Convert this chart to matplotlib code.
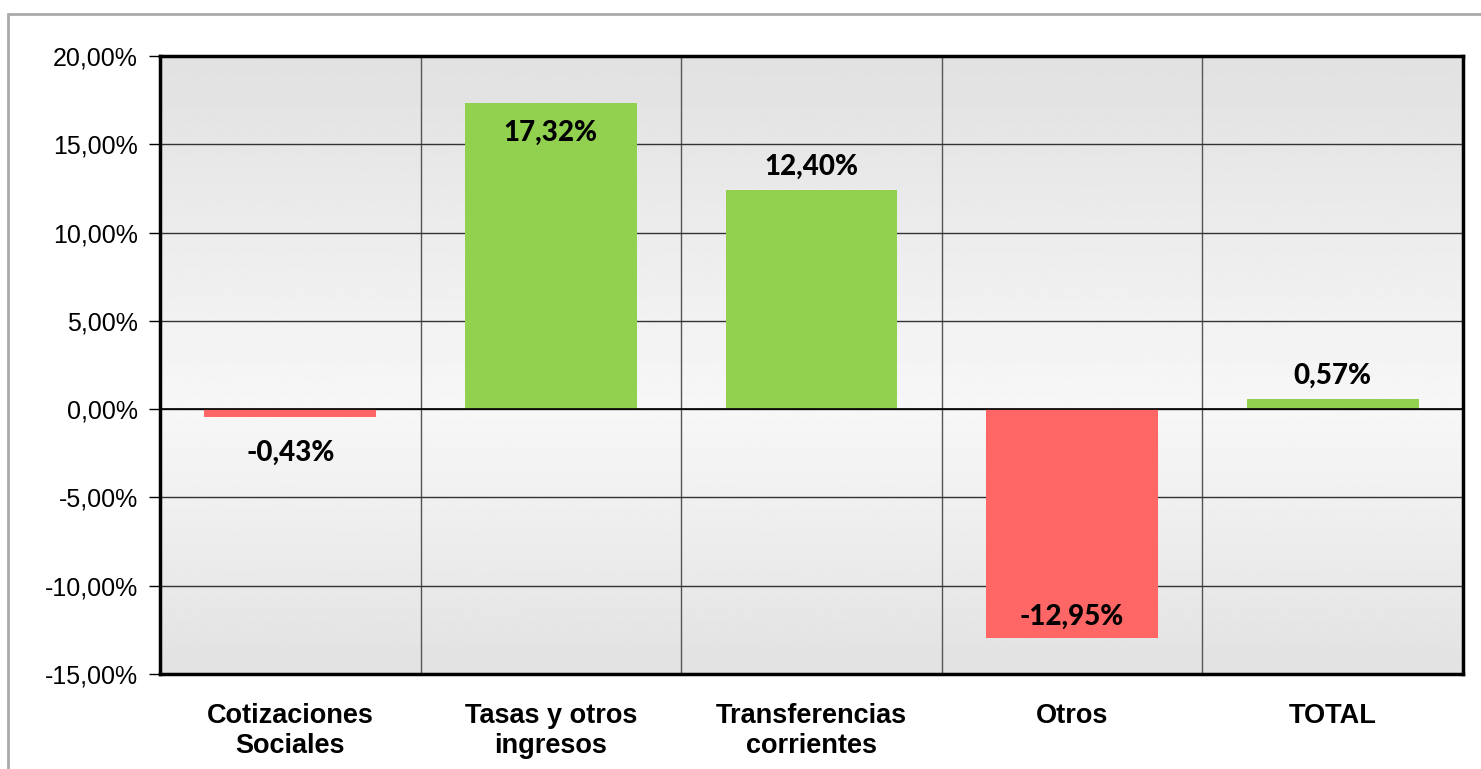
import matplotlib.pyplot as plt
import matplotlib.ticker as mticker
from matplotlib.patches import Rectangle
import numpy as np

categories = ["Cotizaciones\nSociales", "Tasas y otros\ningresos", "Transferencias\ncorrientes", "Otros", "TOTAL"]
values = [-0.43, 17.32, 12.40, -12.95, 0.57]
label_inside = [False, True, False, True, False]

green = "#92d050"
red = "#ff6666"

fig = plt.figure(figsize=(14.81, 7.69), dpi=100)
ax = fig.add_axes([160 / 1481, 1 - 674 / 769, (1463 - 160) / 1481, (674 - 56) / 769])

# outer chart border (cut off at the right and bottom)
fig.patches.append(Rectangle((8 / 1481, -0.2), 1.2, 1.2 - 14 / 769, transform=fig.transFigure,
                             fill=False, edgecolor="#aaaaaa", linewidth=2))

# background gradient, lightest around zero
yy = np.linspace(20, -15, 400)
shade = np.where(yy > 0, 247 - 22 * yy / 20, 247 + 21 * yy / 15) / 255
ax.imshow(np.repeat(shade[:, None], 2, axis=1), cmap="gray", vmin=0, vmax=1,
          extent=[-0.5, 4.5, -15, 20], aspect="auto", zorder=0, interpolation="bilinear")

x = np.arange(len(categories))
colors = [green if v >= 0 else red for v in values]
ax.bar(x, values, width=0.66, color=colors, zorder=3)

ax.set_xlim(-0.5, 4.5)
ax.set_ylim(-15, 20)
ax.set_yticks(np.arange(-15, 21, 5))
ax.yaxis.set_major_formatter(mticker.FuncFormatter(lambda v, p: f"{v:.2f}%".replace(".", ",")))
ax.set_xticks(x)
ax.set_xticklabels(categories, fontsize=19.5, fontweight="bold", family="Liberation Sans", linespacing=1.2)
ax.set_xticks(np.arange(0.5, 4.5, 1), minor=True)
ax.tick_params(axis="x", which="both", length=0, pad=21)
ax.tick_params(axis="y", length=8, width=1, pad=8, labelsize=18)
for lab in ax.get_yticklabels():
    lab.set_family("Liberation Sans")

ax.grid(axis="y", which="major", color="#333333", linewidth=1, zorder=1)
ax.grid(axis="x", which="minor", color="#555555", linewidth=1, zorder=1)
ax.axhline(0, color="black", linewidth=1.2, zorder=4)
for s in ax.spines.values():
    s.set_linewidth(2.5)
    s.set_color("black")
    s.set_zorder(5)

for xi, v, inside in zip(x, values, label_inside):
    txt = f"{v:.2f}%".replace(".", ",")
    if v >= 0:
        off = -21 if inside else 17
    else:
        off = 15 if inside else -26
    ax.annotate(txt, (xi, v), xytext=(0, off), textcoords="offset points",
                ha="center", va="center", fontsize=20, fontweight="black",
                family="Lato", zorder=6)

fig.savefig("out.png", dpi=100)
